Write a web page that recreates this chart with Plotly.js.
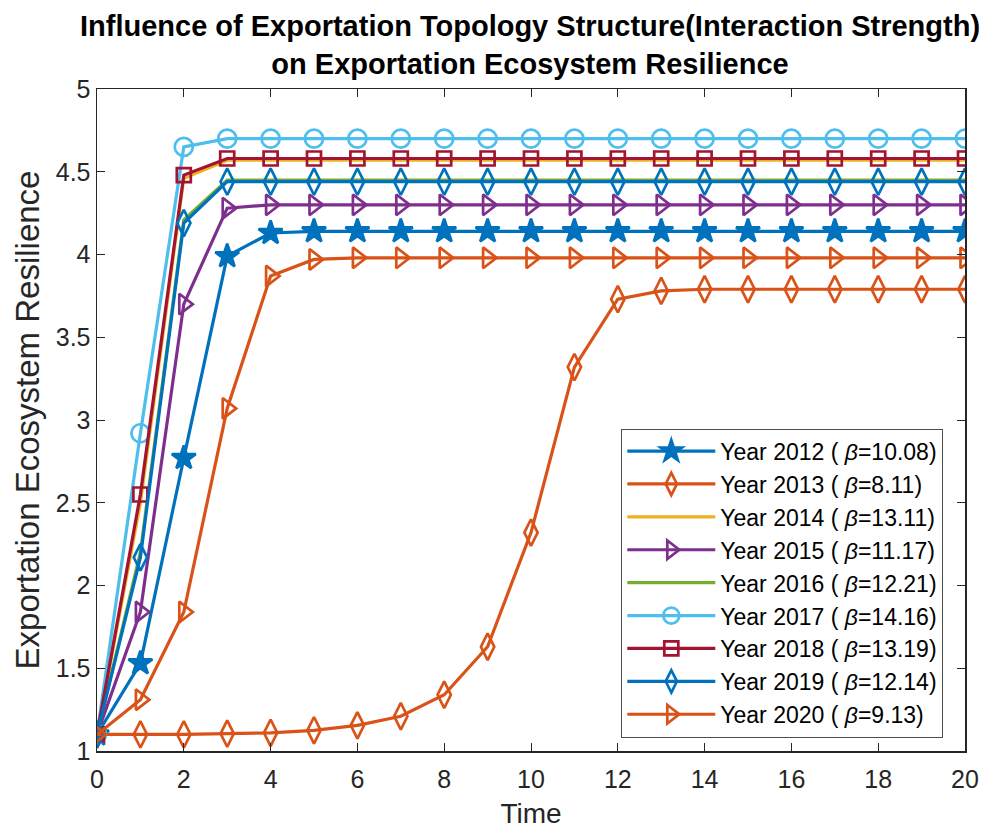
<!DOCTYPE html>
<html>
<head>
<meta charset="utf-8">
<script src="https://cdn.plot.ly/plotly-3.0.1.min.js"></script>
<style>html,body{margin:0;padding:0;background:#fff;}#chart{width:987px;height:830px;}</style>
</head>
<body>
<div id="chart"></div>
<script>
const time = [0,1,2,3,4,5,6,7,8,9,10,11,12,13,14,15,16,17,18,19,20];
const seriesNames = [
  "Year 2012 ( <i>β</i>=10.08)",
  "Year 2013 ( <i>β</i>=8.11)",
  "Year 2014 ( <i>β</i>=13.11)",
  "Year 2015 ( <i>β</i>=11.17)",
  "Year 2016 ( <i>β</i>=12.21)",
  "Year 2017 ( <i>β</i>=14.16)",
  "Year 2018 ( <i>β</i>=13.19)",
  "Year 2019 ( <i>β</i>=12.14)",
  "Year 2020 ( <i>β</i>=9.13)"
];
const y2012 = [1.10,1.53,2.77,3.99,4.13,4.14,4.14,4.14,4.14,4.14,4.14,4.14,4.14,4.14,4.14,4.14,4.14,4.14,4.14,4.14,4.14];
const y2013 = [1.10,1.10,1.10,1.105,1.11,1.125,1.155,1.21,1.34,1.63,2.32,3.32,3.73,3.78,3.79,3.79,3.79,3.79,3.79,3.79,3.79];
const y2014 = [1.10,2.50,4.46,4.57,4.57,4.57,4.57,4.57,4.57,4.57,4.57,4.57,4.57,4.57,4.57,4.57,4.57,4.57,4.57,4.57,4.57];
const y2015 = [1.10,1.84,3.70,4.28,4.30,4.30,4.30,4.30,4.30,4.30,4.30,4.30,4.30,4.30,4.30,4.30,4.30,4.30,4.30,4.30,4.30];
const y2016 = [1.10,2.20,4.21,4.45,4.45,4.45,4.45,4.45,4.45,4.45,4.45,4.45,4.45,4.45,4.45,4.45,4.45,4.45,4.45,4.45,4.45];
const y2017 = [1.10,2.92,4.65,4.70,4.70,4.70,4.70,4.70,4.70,4.70,4.70,4.70,4.70,4.70,4.70,4.70,4.70,4.70,4.70,4.70,4.70];
const y2018 = [1.10,2.55,4.48,4.58,4.58,4.58,4.58,4.58,4.58,4.58,4.58,4.58,4.58,4.58,4.58,4.58,4.58,4.58,4.58,4.58,4.58];
const y2019 = [1.10,2.17,4.19,4.44,4.44,4.44,4.44,4.44,4.44,4.44,4.44,4.44,4.44,4.44,4.44,4.44,4.44,4.44,4.44,4.44,4.44];
const y2020 = [1.10,1.31,1.84,3.07,3.87,3.97,3.98,3.98,3.98,3.98,3.98,3.98,3.98,3.98,3.98,3.98,3.98,3.98,3.98,3.98,3.98];
const seriesValues = [y2012,y2013,y2014,y2015,y2016,y2017,y2018,y2019,y2020];
const colors = ["#0072BD","#D95319","#EDB120","#7E2F8E","#77AC30","#4DBEEE","#A2142F","#0072BD","#D95319"];
const symbols = ["star","diamond-tall-open",null,"triangle-right-open",null,"circle-open","square-open","diamond-tall-open","triangle-right-open"];
const sizes = [18,19,0,18,0,18,14,19,18];
const xTicks = [0,2,4,6,8,10,12,14,16,18,20];
const yTicks = [1,1.5,2,2.5,3,3.5,4,4.5,5];

const traces = seriesValues.map((v,i)=>{
  const t = {
    x: time, y: v, name: seriesNames[i], type: "scatter",
    mode: symbols[i] ? "lines+markers" : "lines",
    line: {color: colors[i], width: 3.2},
    legendgroup: "g"+i
  };
  if (symbols[i]) t.marker = {symbol: symbols[i], size: sizes[i], color: colors[i], line:{color: colors[i], width: 2.7}};
  return t;
});

const fontFam = "Liberation Sans, Arial, sans-serif";
const layout = {
  width: 987, height: 830,
  margin: {l: 97, r: 22, t: 89, b: 79},
  paper_bgcolor: "#fff", plot_bgcolor: "#fff",
  font: {family: fontFam, color: "#262626", size: 22},
  title: {text: "<b>Influence of Exportation Topology Structure(Interaction Strength)<br>on Exportation Ecosystem Resilience</b>",
          font: {family: fontFam, size: 29, color: "#000"}, x: 0.537, xanchor: "center",
          yref: "paper", y: 1, yanchor: "bottom", pad: {b: 53}},
  xaxis: {range: [0,20], tickvals: xTicks, ticktext: xTicks.map(String), ticks: "inside", ticklen: 8, tickcolor: "#262626",
          showline: true, linecolor: "#262626", linewidth: 1.5, mirror: "ticks", showgrid: false, zeroline: false,
          tickfont: {size: 25, color: "#262626"}, ticklabelstandoff: 5,
          title: {text: "Time", font: {size: 28, color: "#262626"}, standoff: 12}},
  yaxis: {range: [1,5], tickvals: yTicks, ticktext: yTicks.map(String), ticks: "inside", ticklen: 8, tickcolor: "#262626",
          showline: true, linecolor: "#262626", linewidth: 1.5, mirror: "ticks", showgrid: false, zeroline: false,
          tickfont: {size: 25, color: "#262626"},
          title: {text: "Exportation Ecosystem Resilience", font: {size: 33, color: "#262626"}, standoff: 6}},
  legend: {x: 0.975, xanchor: "right", y: 0.487, yanchor: "top", bgcolor: "#fff", bordercolor: "#4d4d4d", borderwidth: 1,
           font: {size: 23, color: "#000"}, itemwidth: 88, tracegroupgap: 2, traceorder: "normal"},
  showlegend: true
};
Plotly.newPlot("chart", traces, layout, {displayModeBar: false, staticPlot: true});
</script>
</body>
</html>
